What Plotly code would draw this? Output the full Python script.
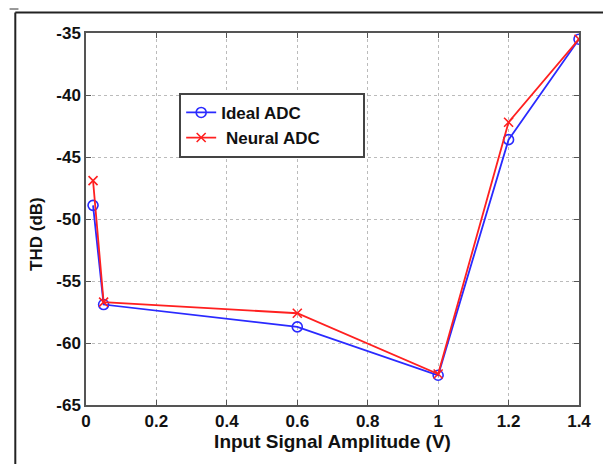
import plotly.graph_objects as go

x_vals = [0.02, 0.05, 0.6, 1.0, 1.2, 1.4]
ideal_thd = [-48.9, -56.9, -58.7, -62.6, -43.6, -35.5]
neural_thd = [-46.9, -56.7, -57.6, -62.5, -42.2, -35.5]
x_ticks = [0, 0.2, 0.4, 0.6, 0.8, 1, 1.2, 1.4]
x_tick_text = ["0", "0.2", "0.4", "0.6", "0.8", "1", "1.2", "1.4"]
y_ticks = [-65, -60, -55, -50, -45, -40, -35]

font_fam = "Liberation Sans, Arial, sans-serif"
pad = "&nbsp;" * 8

fig = go.Figure()
fig.add_trace(go.Scatter(
    x=x_vals, y=ideal_thd, name="<b>Ideal ADC</b>", mode="lines+markers",
    line=dict(color="#2a2aff", width=1.8),
    marker=dict(symbol="circle-open", size=10, color="#2a2aff", line=dict(width=1.6)),
))
fig.add_trace(go.Scatter(
    x=x_vals, y=neural_thd, name="<b>&nbsp;Neural ADC</b>" + pad, mode="lines+markers",
    line=dict(color="#ff2020", width=1.8),
    marker=dict(symbol="x-thin-open", size=9, color="#ff2020", line=dict(width=1.6, color="#ff2020")),
))

axis_common = dict(
    showline=True, linecolor="#555", linewidth=1.5, mirror="allticks",
    ticks="inside", ticklen=5, tickcolor="#555",
    showgrid=True, gridcolor="#bbb", griddash="dot", gridwidth=1,
    zeroline=False,
    tickfont=dict(family=font_fam, size=17, color="#111"),
)

fig.update_xaxes(range=[0, 1.4], tickvals=x_ticks, ticktext=["<b>%s</b>" % t for t in x_tick_text],
                 title=dict(text="<b>Input Signal Amplitude (V)</b>", font=dict(family=font_fam, size=19, color="#111"), standoff=0),
                 **axis_common)
fig.update_yaxes(range=[-65, -35], tickvals=y_ticks, ticktext=["<b>%d</b>" % t for t in y_ticks],
                 **axis_common)

fig.update_layout(
    width=603, height=464,
    margin=dict(l=86, r=15, t=33, b=59),
    paper_bgcolor="white", plot_bgcolor="white",
    showlegend=True,
    legend=dict(x=0.189, y=0.839, xanchor="left", yanchor="top",
                bgcolor="white", bordercolor="#444", borderwidth=2,
                font=dict(family=font_fam, size=17, color="#111"),
                tracegroupgap=0, itemwidth=30),
    annotations=[
        dict(text="<b>THD (dB)</b>", xref="paper", yref="paper", x=-0.0996, y=0.4597,
             textangle=-90, showarrow=False, xanchor="center", yanchor="middle",
             font=dict(family=font_fam, size=17, color="#111")),
    ],
    shapes=[
        dict(type="line", xref="paper", yref="paper", x0=-0.1434, x1=-0.1434, y0=1.0551, y1=-0.2,
             line=dict(color="#222", width=2)),
        dict(type="line", xref="paper", yref="paper", x0=-0.1434, x1=1.1, y0=1.0551, y1=1.0551,
             line=dict(color="#222", width=2)),
        dict(type="line", xref="paper", yref="paper", x0=-0.155, x1=-0.137, y0=1.0645, y1=1.0645,
             line=dict(color="#777", width=1.5)),
    ],
)

fig.write_html("out.html")
